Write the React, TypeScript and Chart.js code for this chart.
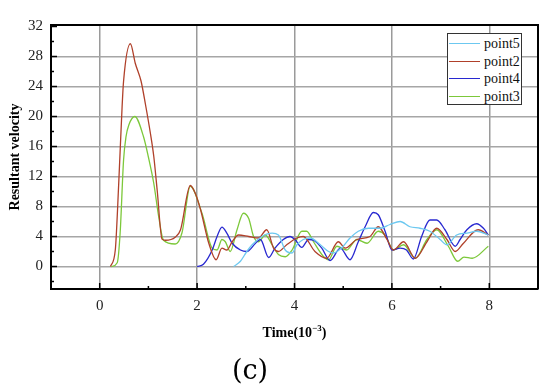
import React, { useEffect, useRef } from "react";
import { Chart, registerables } from "chart.js";

Chart.register(...registerables);

// ---------- data ----------
const seriesNames = ["point5", "point2", "point4", "point3"];
const seriesColors = ["#6cc8f0", "#b0402a", "#2828d0", "#7cc83a"];

const point5X = [2.75, 2.89, 3.02, 3.13, 3.33, 3.54, 3.67, 3.81, 3.95, 4.05, 4.18, 4.32, 4.53, 4.7, 4.8, 5.0, 5.14, 5.31, 5.52, 5.76, 5.96, 6.17, 6.37, 6.58, 6.78, 6.99, 7.13, 7.33, 7.54, 7.74, 7.98];
const point5Y = [0, 0.7, 2.0, 2.9, 4.0, 4.45, 4.2, 2.2, 1.8, 2.9, 3.6, 3.8, 2.9, 2.0, 1.8, 2.7, 3.8, 4.7, 5.1, 5.1, 5.6, 6.0, 5.3, 5.1, 4.7, 3.6, 2.9, 4.2, 4.45, 4.7, 4.2];

const point2X = [0.22, 0.32, 0.39, 0.46, 0.49, 0.63, 0.73, 0.85, 0.94, 1.04, 1.11, 1.18, 1.28, 1.35, 1.55, 1.66, 1.86, 1.96, 2.07, 2.24, 2.39, 2.51, 2.61, 2.72, 2.85, 3.06, 3.26, 3.43, 3.57, 3.67, 3.84, 4.05, 4.18, 4.42, 4.66, 4.9, 5.04, 5.28, 5.55, 5.72, 5.9, 6.03, 6.24, 6.48, 6.72, 6.92, 7.13, 7.3, 7.47, 7.77, 7.98];
const point2Y = [0, 2.2, 11, 21.3, 24.7, 29.7, 27.1, 24.7, 21.6, 17.8, 14.7, 10.2, 3.65, 3.5, 3.9, 4.9, 10.8, 9.8, 7.6, 3.1, 0.9, 2.45, 2.2, 3.3, 4.2, 4.0, 3.8, 4.9, 2.45, 2.0, 2.9, 3.8, 4.0, 2.0, 1.1, 3.3, 2.45, 3.6, 4.0, 5.3, 3.6, 2.2, 3.3, 1.1, 3.3, 5.1, 3.6, 2.0, 3.1, 4.9, 4.2];

const point4X = [2.0, 2.13, 2.31, 2.41, 2.51, 2.61, 2.72, 2.89, 3.02, 3.2, 3.3, 3.47, 3.6, 3.77, 3.91, 4.01, 4.15, 4.29, 4.39, 4.56, 4.73, 4.94, 5.14, 5.31, 5.45, 5.62, 5.72, 5.86, 6.0, 6.17, 6.3, 6.44, 6.61, 6.78, 6.92, 7.09, 7.3, 7.4, 7.54, 7.74, 7.88, 7.98];
const point4Y = [0, 0.3, 2.2, 4.0, 5.25, 4.45, 3.1, 2.2, 2.0, 3.1, 3.6, 1.2, 2.45, 3.6, 4.0, 3.6, 2.55, 3.6, 3.5, 2.45, 0.8, 2.45, 0.9, 3.3, 5.3, 7.2, 6.9, 4.7, 2.2, 2.45, 2.2, 1.0, 4.0, 6.2, 6.2, 4.9, 2.7, 3.6, 4.9, 5.7, 5.1, 4.2];

const point3X = [0.24, 0.36, 0.42, 0.49, 0.54, 0.6, 0.72, 0.9, 1.0, 1.11, 1.21, 1.31, 1.55, 1.69, 1.86, 2.1, 2.31, 2.41, 2.51, 2.58, 2.68, 2.82, 2.95, 3.06, 3.16, 3.26, 3.4, 3.54, 3.67, 3.81, 3.95, 4.15, 4.25, 4.39, 4.6, 4.7, 4.87, 5.07, 5.28, 5.49, 5.72, 5.86, 6.03, 6.24, 6.48, 6.72, 6.92, 7.16, 7.35, 7.48, 7.65, 7.98];
const point3Y = [0, 0.5, 4.5, 14.2, 17.3, 18.9, 20, 17.3, 14.6, 11.1, 6.7, 3.5, 3.0, 4.5, 10.7, 7.1, 2.45, 2.2, 3.6, 3.3, 2.0, 4.9, 7.1, 6.4, 4.0, 3.3, 4.2, 2.9, 1.6, 1.3, 2.2, 4.7, 4.7, 3.3, 1.3, 0.9, 2.7, 2.2, 3.6, 3.1, 4.7, 4.2, 2.2, 2.9, 1.1, 3.6, 4.9, 2.7, 0.7, 1.25, 1.1, 2.7];

const xTickValues = [-1, 0, 1, 2, 3, 4, 5, 6, 7, 8, 9];
const xTickLabels = ["", "0", "", "2", "", "4", "", "6", "", "8", ""];
const yTickValues = [-2, 0, 2, 4, 6, 8, 10, 12, 14, 16, 18, 20, 22, 24, 26, 28, 30, 32];
const yTickLabels = ["", "0", "", "4", "", "8", "", "12", "", "16", "", "20", "", "24", "", "28", "", "32"];

const xTitle = "Time(10";
const xTitleSup = "\u22123";
const yTitle = "Resultant velocity";
const panelLabel = "(c)";

const SERIF = "'Liberation Serif', 'Times New Roman', serif";

const toPoints = (xs: number[], ys: number[]) => xs.map((x, i) => ({ x, y: ys[i] }));

const framePlugin = {
  id: "frameTicks",
  afterDraw(chart: any) {
    const { ctx, chartArea, scales } = chart;
    const { left, right, top, bottom } = chartArea;
    ctx.save();
    ctx.strokeStyle = "#000";
    ctx.lineWidth = 1.5;
    xTickValues.forEach((v) => {
      const px = scales.x.getPixelForValue(v);
      const len = v % 2 === 0 ? 6 : 3;
      ctx.beginPath();
      ctx.moveTo(px, bottom);
      ctx.lineTo(px, bottom - len);
      ctx.stroke();
    });
    yTickValues.forEach((v) => {
      const py = scales.y.getPixelForValue(v);
      const len = v % 4 === 0 ? 6 : 3;
      ctx.beginPath();
      ctx.moveTo(left, py);
      ctx.lineTo(left + len, py);
      ctx.stroke();
    });
    ctx.lineWidth = 2;
    ctx.beginPath();
    ctx.moveTo(left, top);
    ctx.lineTo(right, top);
    ctx.lineTo(right, bottom);
    ctx.stroke();
    ctx.restore();
  },
};

export default function App() {
  const canvasRef = useRef<HTMLCanvasElement | null>(null);

  useEffect(() => {
    const canvas = canvasRef.current;
    if (!canvas) return;
    const xsList = [point5X, point2X, point4X, point3X];
    const ysList = [point5Y, point2Y, point4Y, point3Y];
    const chart = new Chart(canvas, {
      type: "line",
      data: {
        datasets: seriesNames.map((name, i) => ({
          label: name,
          data: toPoints(xsList[i], ysList[i]),
          borderColor: seriesColors[i],
          backgroundColor: seriesColors[i],
          borderWidth: 1.3,
          pointRadius: 0,
          cubicInterpolationMode: "monotone" as const,
          fill: false,
        })),
      },
      options: {
        animation: false,
        responsive: false,
        devicePixelRatio: 1,
        layout: { padding: { top: 25, right: 12, left: 0, bottom: 0 } },
        plugins: { legend: { display: false }, tooltip: { enabled: false } },
        scales: {
          x: {
            type: "linear",
            min: -1,
            max: 9,
            afterBuildTicks: (scale: any) => {
              scale.ticks = xTickValues.map((v) => ({ value: v }));
            },
            afterFit: (scale: any) => {
              scale.height = 99;
            },
            ticks: {
              autoSkip: false,
              maxRotation: 0,
              padding: 8,
              color: "#222",
              font: { family: SERIF, size: 15 },
              callback: (value: any) => {
                const idx = xTickValues.indexOf(Number(value));
                return idx >= 0 ? xTickLabels[idx] : "";
              },
            },
            grid: {
              drawTicks: false,
              lineWidth: 1.5,
              color: (c: any) => {
                const v = c.tick ? c.tick.value : NaN;
                return v % 2 === 0 && v >= 0 && v <= 8 ? "#9a9a9a" : "rgba(0,0,0,0)";
              },
            },
            border: { display: true, color: "#000", width: 2 },
          },
          y: {
            type: "linear",
            min: -3,
            max: 32.2,
            afterBuildTicks: (scale: any) => {
              scale.ticks = yTickValues.map((v) => ({ value: v }));
            },
            afterFit: (scale: any) => {
              scale.width = 51;
            },
            ticks: {
              autoSkip: false,
              padding: 8,
              color: "#222",
              font: { family: SERIF, size: 15 },
              callback: (value: any) => {
                const idx = yTickValues.indexOf(Number(value));
                return idx >= 0 ? yTickLabels[idx] : "";
              },
            },
            grid: {
              drawTicks: false,
              lineWidth: 1.5,
              color: (c: any) => {
                const v = c.tick ? c.tick.value : NaN;
                return v % 4 === 0 && v >= 0 && v <= 28 ? "#a6a6a6" : "rgba(0,0,0,0)";
              },
            },
            border: { display: true, color: "#000", width: 2 },
            title: {
              display: true,
              text: yTitle,
              color: "#000",
              font: { family: SERIF, size: 14, weight: "bold" },
              padding: { top: 7, bottom: 0 },
            },
          },
        },
      },
      plugins: [framePlugin],
    } as any);
    return () => chart.destroy();
  }, []);

  return (
    <div style={{ position: "absolute", left: 0, top: 0, width: 550, height: 388, background: "#fff" }}>
      <canvas ref={canvasRef} width={550} height={388} style={{ display: "block" }} />
      <div
        style={{
          position: "absolute",
          left: 447,
          top: 33,
          width: 75,
          height: 72,
          boxSizing: "border-box",
          border: "1px solid #333",
          background: "#fff",
          fontFamily: SERIF,
          fontSize: 14,
          color: "#111",
          paddingTop: 1,
        }}
      >
        {seriesNames.map((name, i) => (
          <div key={name} style={{ display: "flex", alignItems: "center", height: 17.5, lineHeight: "17.5px" }}>
            <span style={{ display: "inline-block", width: 31, height: 0, borderTop: `1.5px solid ${seriesColors[i]}`, marginLeft: 1, marginRight: 4 }} />
            <span>{name}</span>
          </div>
        ))}
      </div>
      <div
        style={{
          position: "absolute",
          left: 194.5,
          width: 200,
          top: 323,
          textAlign: "center",
          fontFamily: SERIF,
          fontWeight: "bold",
          fontSize: 14,
          color: "#000",
        }}
      >
        {xTitle}
        <sup style={{ fontSize: 9 }}>{xTitleSup}</sup>)
      </div>
      <div
        style={{
          position: "absolute",
          left: 200,
          width: 100,
          top: 354,
          textAlign: "center",
          fontFamily: "'DejaVu Serif', serif",
          fontSize: 27,
          color: "#000",
        }}
      >
        {panelLabel}
      </div>
    </div>
  );
}
